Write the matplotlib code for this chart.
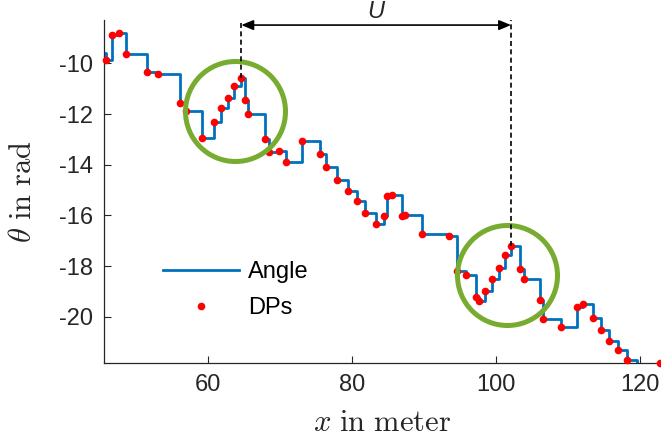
import matplotlib
matplotlib.use('Agg')
import matplotlib.pyplot as plt

plt.rcParams['font.family'] = ['Liberation Sans', 'DejaVu Sans']
plt.rcParams['mathtext.fontset'] = 'cm'
plt.rcParams['axes.unicode_minus'] = False

# ---- data ----
dp_x = [45.86, 46.65, 47.71, 48.64, 51.51, 53.08, 56.14, 56.90, 59.15, 60.89,
        61.79, 62.81, 63.67, 64.65, 65.14, 65.63, 67.94, 68.47, 69.89, 70.79,
        73.04, 75.56, 76.42, 77.99, 79.47, 80.69, 81.83, 83.36, 84.53, 84.92,
        85.54, 87.01, 87.39, 89.71, 93.43, 94.61, 95.83, 97.29, 97.71, 98.53,
        99.51, 100.44, 101.33, 102.11, 103.39, 103.93, 106.07, 106.56, 109.08, 111.21,
        112.10, 113.50, 114.60, 115.72, 117.00, 118.15, 122.81]
dp_y = [-9.87, -8.87, -8.82, -9.63, -10.36, -10.42, -11.58, -11.87, -12.93, -12.30,
        -11.78, -11.38, -10.88, -10.57, -11.46, -11.98, -12.99, -13.50, -13.46, -13.88,
        -13.08, -13.56, -14.10, -14.61, -15.05, -15.43, -15.89, -16.32, -16.04, -15.25,
        -15.19, -16.02, -15.98, -16.73, -16.80, -18.21, -18.33, -19.21, -19.38, -18.97,
        -18.49, -18.06, -17.57, -17.21, -18.10, -18.52, -19.35, -20.07, -20.41, -19.60,
        -19.51, -20.06, -20.52, -20.95, -21.29, -21.69, -21.81]

# stair-shaped angle signal: step positions and levels
angle_x = [45.58] + dp_x[:-1] + [119.57]
angle_y = [-9.60] + dp_y[:-1] + [-21.95]

# highlighted regions (circle centres) and the U interval (peak indices)
circle_x = [63.71, 101.49]
circle_y = [-11.88, -18.33]
peak_idx = [13, 43]

x_ticks = [60, 80, 100, 120]
y_ticks = [-20, -18, -16, -14, -12, -10]
xlim = (45.58, 122.94)
ylim = (-21.82, -8.29)

blue = '#0072BD'
green = '#77AC30'
txt = '#262626'

fig = plt.figure(figsize=(6.61, 4.44), dpi=100)
ax = fig.add_axes([104/661, 81/444, 557/661, 343/444])

line_angle, = ax.plot(angle_x, angle_y, drawstyle='steps-post', color=blue,
                      lw=2.0, label='Angle', zorder=2)
line_dp, = ax.plot(dp_x, dp_y, 'o', color='red', ms=5.5, mew=0, label='DPs',
                   zorder=3, clip_on=False)

ax.set_xlim(*xlim)
ax.set_ylim(*ylim)

# green highlight circles
ax.plot(circle_x, circle_y, 'o', ms=72, mfc='none', mec=green, mew=3.6,
        zorder=4, clip_on=False)

# dashed markers and U arrow
u_x0 = dp_x[peak_idx[0]]
u_x1 = dp_x[peak_idx[1]]
for i in peak_idx:
    ax.plot([dp_x[i], dp_x[i]], [dp_y[i], ylim[1]], color='k', lw=1.2,
            ls=(0, (3, 2)), zorder=5, clip_on=False)
arrow_y = -8.49
ax.annotate('', xy=(u_x1, arrow_y), xytext=(u_x0, arrow_y),
            arrowprops=dict(arrowstyle='<|-|>,head_length=0.6,head_width=0.25',
                            color='k', lw=1.2, mutation_scale=12,
                            shrinkA=0, shrinkB=0), zorder=6, annotation_clip=False)
ax.text((u_x0 + u_x1) / 2, -7.95, 'U', fontsize=17, style='italic',
        ha='center', va='center', color=txt, clip_on=False)

# axes styling (MATLAB-like, box off)
for s in ['top', 'right']:
    ax.spines[s].set_visible(False)
for s in ['left', 'bottom']:
    ax.spines[s].set_color(txt)
    ax.spines[s].set_linewidth(0.9)
ax.set_xticks(x_ticks)
ax.set_yticks(y_ticks)
ax.tick_params(direction='in', length=5, width=0.8, colors=txt, labelsize=17,
               pad=8)

ax.set_xlabel(r'$x\ \mathrm{in\ meter}$', fontsize=22, color=txt)
ax.set_ylabel(r'$\theta\ \mathrm{in\ rad}$', fontsize=22, color=txt)
ax.xaxis.set_label_coords(0.5, -0.13)
ax.yaxis.set_label_coords(-0.118, 0.5)

ax.legend(handles=[line_angle, line_dp], loc='center left',
          bbox_to_anchor=(163/661, (444-290)/444), bbox_transform=fig.transFigure,
          frameon=False, fontsize=17, handlelength=3.2, handletextpad=0.4,
          labelspacing=0.6, borderpad=0, borderaxespad=0, numpoints=1)

fig.savefig('out.png', dpi=100)
